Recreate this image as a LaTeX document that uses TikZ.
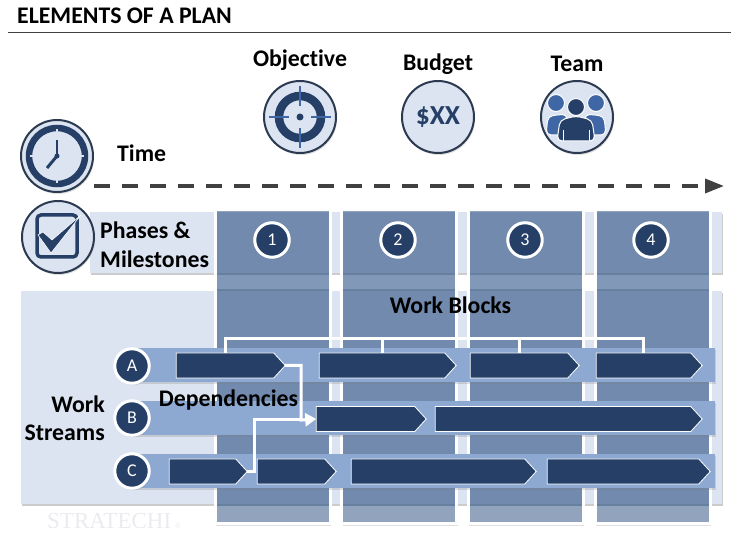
\documentclass[tikz,border=0pt]{standalone}
\usepackage{fontspec}
\setmainfont[Ligatures=CommonOff]{Carlito}
\usepackage{tikz}
\usetikzlibrary{arrows.meta}
\usetikzlibrary{shapes.symbols}
\usetikzlibrary{shadows}

\definecolor{navy}{HTML}{253F66}
\definecolor{steel}{HTML}{3F67A6}
\definecolor{pale}{HTML}{DCE4F1}
\definecolor{strip}{HTML}{8DA9D1}
\definecolor{collight}{HTML}{92A3BE}
\definecolor{colmid}{HTML}{8298B9}
\definecolor{coldark}{HTML}{718AAE}
\definecolor{colline}{HTML}{67809F}
\definecolor{rim}{HTML}{2B3A50}
\definecolor{axis}{HTML}{404040}
\definecolor{mark}{HTML}{E9EBEF}

\tikzset{
  softshadow/.style={drop shadow={shadow xshift=1pt,shadow yshift=-2pt,opacity=.25}},
  icon/.style={circle,draw=rim,line width=2pt,fill=pale,minimum size=72pt,inner sep=0pt,softshadow},
  badge/.style={circle,draw=white,line width=3pt,fill=navy,text=white,minimum size=34.5pt,inner sep=0pt,
    font=\fontsize{18}{20}\selectfont,softshadow},
  block/.style={signal,signal to=east,signal pointer angle=95,draw=white,line width=.8pt,fill=navy,
    inner sep=0pt,outer sep=0pt,minimum height=25pt},
  column/.style={rectangle,draw=white,line width=3pt,fill=collight,inner sep=0pt,outer sep=0pt,
    minimum width=115pt,minimum height=314pt,softshadow},
  lane/.style={rectangle,fill=strip,inner sep=0pt,outer sep=0pt,minimum height=34pt,softshadow},
  label/.style={font=\fontsize{23.8}{24}\selectfont\bfseries,text=black,inner sep=0pt},
  link/.style={draw=white,line width=3pt}
}

\begin{document}
\begin{tikzpicture}[x=1pt,y=-1pt]
      \useasboundingbox (0,0) rectangle (740,534);

      % header
      \node[label,anchor=west] (title) at (17,16) {ELEMENTS OF A PLAN};
      \coordinate (ruleL) at (8,33);
      \coordinate (ruleR) at (731,33);
      \draw[axis,line width=1pt] (ruleL) -- (ruleR);

      % background panels
      \fill[black,opacity=.2] (91,214) rectangle (723,275);
      \fill[black,opacity=.2] (22,293) rectangle (723,506);
      \fill[pale] (90,212) rectangle (722,273);
      \fill[pale] (21,291) rectangle (722,504);
      \node[font=\fontsize{23}{23}\selectfont\bfseries,text=mark,anchor=west,inner sep=0pt] (brand) at (47,521)
        {\setmainfont{Liberation Serif}\selectfont STRATECHI\,{\fontsize{8}{8}\selectfont ®}};

      % phase columns
      \foreach \n/\x in {col1/272.5,col2/399,col3/525.5,col4/652.5} {
        \node[column] (\n) at (\x,367) {};
        \fill[coldark] (\x-56,212) rectangle (\x+56,273);
        \fill[colmid] (\x-56,273) rectangle (\x+56,291);
        \fill[coldark] (\x-56,291) rectangle (\x+56,504);
        \fill[colline] (\x-56,273) rectangle (\x+56,275);
        \fill[colline] (\x-56,289) rectangle (\x+56,291);
        \fill[colline] (\x-56,504) rectangle (\x+56,506);
      }

      % work stream lanes
      \node[lane,minimum width=583pt] (laneA) at (423.5,365) {};
      \node[lane,minimum width=583pt] (laneB) at (423.5,418) {};
      \node[lane,minimum width=583pt] (laneC) at (423.5,471) {};

      \begin{scope}
        \foreach \n/\x/\w in {a1/225/109,a2/382/137,a3/519/109,a4/643.5/106} {
          \node[block,minimum width=\w pt] (\n) at (\x,365.5) {};
        }
        \foreach \n/\x/\w in {b1/365.5/110,b2/563/267} {
          \node[block,minimum width=\w pt] (\n) at (\x,419) {};
        }
        \foreach \n/\x/\w in {c1/202.5/78,c2/291/79,c3/438/185,c4/623/163} {
          \node[block,minimum width=\w pt] (\n) at (\x,471.5) {};
        }
      \end{scope}

      % bracket under the work blocks label
      \coordinate (brk) at (456,339);
      \coordinate (brkTop) at (456,327);
      \draw[link] (brkTop) -- (brk);
      \foreach \n in {a1,a2,a3,a4} {
        \draw[link] (\n.north) |- (brk);
      }

      % dependencies
      \coordinate (depA) at (301,420);
      \coordinate (depC) at (254,420);
      \draw[link,-{Triangle[length=11pt,width=13pt]}] (a1.east) -| (depA) -- (b1.west);
      \draw[link] (c1.east) -| (depC) -- (depA);

      % badges
      \begin{scope}[every node/.style={badge}]
        \node (n1) at (272,240) {1};
        \node (n2) at (398,240) {2};
        \node (n3) at (525,240) {3};
        \node (n4) at (651,240) {4};
        \node (sA) at (132,366) {A};
        \node (sB) at (132,418) {B};
        \node (sC) at (132,471) {C};
      \end{scope}

      % icons
      \node[icon] (clock) at (57,156) {};
      \node[icon] (check) at (58,237) {};
      \node[icon] (target) at (300,117) {};
      \node[icon,text=navy,font=\fontsize{27.5}{28}\selectfont\bfseries] (budget) at (438,117) {\$XX};
      \node[icon] (team) at (577,117) {};

      % clock face
      \begin{scope}[shift={(clock.center)}]
        \draw[navy,line width=6.5pt] (0,0) circle (28pt);
        \foreach \a in {0,90,180,270} {
          \draw[pale,line width=1.5pt] (\a:23pt) -- (\a:27pt);
        }
        \draw[navy,line width=2pt] (0,0) -- (0,-16);
        \draw[navy,line width=3pt] (0,0) -- (-10,12);
        \fill[navy] (0,0) circle (2.5pt);
      \end{scope}

      % tick box
      \begin{scope}[shift={(check.center)}]
        \draw[navy,line width=3.5pt,rounded corners=4pt] (-21,-22) rectangle (19,20);
        \fill[navy,draw=white,line width=.6pt] (-20,-2) -- (-15,-5) -- (-6,3) -- (23,-22) -- (-7,16) -- cycle;
      \end{scope}

      % target
      \begin{scope}[shift={(target.center)}]
        \draw[navy,line width=8.5pt] (0,0) circle (21pt);
        \fill[navy] (0,0) circle (3.5pt);
        \foreach \a in {0,90,180,270} {
          \draw[steel,line width=1.6pt] (\a:11pt) -- (\a:31pt);
        }
      \end{scope}

      % people
      \begin{scope}[shift={(team.center)}]
        \fill[steel,draw=white,line width=1pt] (-21,-14) circle (8.5pt);
        \fill[steel,draw=white,line width=1pt] (19,-14) circle (8.5pt);
        \fill[steel,draw=white,line width=1pt,rounded corners=5pt] (-31,18) -- (-29,-1) -- (-10,-3) -- (-10,18) -- cycle;
        \fill[steel,draw=white,line width=1pt,rounded corners=5pt] (29,18) -- (27,-1) -- (8,-3) -- (8,18) -- cycle;
        \fill[navy,draw=white,line width=1pt] (-1,-10) circle (8.5pt);
        \fill[navy,draw=white,line width=1pt,rounded corners=5pt] (-20,24) -- (-17,3) -- (-1,-1) -- (15,3) -- (18,24) -- cycle;
        \draw[white,line width=1pt] (-14,24) -- (-14,13);
        \draw[white,line width=1pt] (12,24) -- (12,13);
      \end{scope}

      % labels
      \node[label] (objective) at (300,60) {Objective};
      \node[label] (budgetT) at (438,64) {Budget};
      \node[label] (teamT) at (577,64) {Team};
      \node[label,anchor=west] (timeT) at (117,153) {Time};
      \node[label,anchor=west] (phases) at (100,230) {Phases \&};
      \node[label,anchor=west] (miles) at (100,259) {Milestones};
      \node[label] (blocks) at (450.5,305) {Work Blocks};
      \node[label,anchor=east] (workT) at (105,404) {Work};
      \node[label,anchor=east] (streams) at (105,433) {Streams};
      \node[label] (deps) at (228.5,400) {Dependencies};

      % time axis
      \coordinate (timeEnd) at (724,186);
      \draw[axis,line width=3.5pt,dash pattern=on 16pt off 12pt,-{Triangle[length=19pt,width=14pt]}]
        (94,186) -- (timeEnd);
    \end{tikzpicture}
\end{document}
